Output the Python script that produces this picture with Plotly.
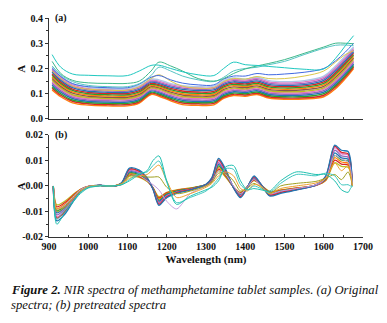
import plotly.graph_objects as go

# ---------------- data: panel (a) original spectra ----------------
wl_a = [908, 930, 960, 1000, 1050, 1100, 1130, 1160, 1180, 1210, 1240, 1280,
        1320, 1345, 1370, 1400, 1430, 1460, 1500, 1550, 1600, 1630, 1655, 1676]

a_s01 = [0.115,0.088,0.064,0.055,0.052,0.052,0.063,0.097,0.090,0.072,0.057,0.054,0.056,0.082,0.093,0.090,0.097,0.083,0.078,0.079,0.088,0.120,0.160,0.200]
a_s02 = [0.122,0.094,0.070,0.060,0.057,0.057,0.068,0.102,0.095,0.077,0.063,0.060,0.062,0.087,0.098,0.095,0.102,0.088,0.083,0.084,0.094,0.127,0.167,0.206]
a_s03 = [0.128,0.100,0.075,0.065,0.062,0.062,0.073,0.106,0.099,0.082,0.068,0.065,0.067,0.092,0.103,0.100,0.107,0.093,0.088,0.089,0.100,0.133,0.173,0.212]
a_s04 = [0.135,0.106,0.081,0.070,0.067,0.067,0.078,0.111,0.104,0.087,0.074,0.070,0.072,0.097,0.108,0.105,0.112,0.098,0.093,0.095,0.106,0.140,0.180,0.218]
a_s05 = [0.141,0.112,0.086,0.075,0.072,0.072,0.083,0.115,0.108,0.092,0.079,0.075,0.077,0.102,0.113,0.110,0.117,0.103,0.098,0.100,0.112,0.146,0.186,0.224]
a_s06 = [0.147,0.118,0.091,0.080,0.077,0.077,0.088,0.119,0.113,0.097,0.084,0.081,0.083,0.107,0.118,0.115,0.122,0.108,0.103,0.105,0.118,0.152,0.192,0.230]
a_s07 = [0.153,0.123,0.096,0.085,0.081,0.081,0.092,0.123,0.118,0.101,0.089,0.086,0.088,0.112,0.122,0.119,0.126,0.112,0.108,0.110,0.123,0.158,0.198,0.236]
a_s08 = [0.160,0.129,0.102,0.090,0.086,0.086,0.097,0.128,0.123,0.106,0.095,0.091,0.093,0.117,0.127,0.124,0.131,0.117,0.113,0.116,0.129,0.165,0.205,0.242]
a_s09 = [0.166,0.135,0.107,0.095,0.091,0.091,0.102,0.132,0.127,0.111,0.100,0.096,0.098,0.122,0.132,0.129,0.136,0.122,0.118,0.121,0.135,0.171,0.211,0.248]
a_s10 = [0.173,0.141,0.113,0.100,0.096,0.096,0.107,0.137,0.132,0.116,0.106,0.102,0.104,0.127,0.137,0.134,0.141,0.127,0.123,0.126,0.141,0.178,0.218,0.254]
a_s11 = [0.179,0.147,0.118,0.105,0.101,0.101,0.112,0.141,0.136,0.121,0.111,0.107,0.109,0.132,0.142,0.139,0.146,0.132,0.128,0.131,0.147,0.184,0.224,0.260]
a_s12 = [0.186,0.153,0.124,0.110,0.106,0.106,0.117,0.146,0.141,0.126,0.117,0.113,0.115,0.137,0.147,0.144,0.151,0.137,0.133,0.136,0.153,0.191,0.231,0.266]
a_s13 = [0.192,0.159,0.129,0.115,0.111,0.111,0.122,0.150,0.145,0.131,0.122,0.118,0.120,0.142,0.152,0.149,0.156,0.142,0.138,0.141,0.159,0.197,0.237,0.272]
a_s14 = [0.199,0.165,0.135,0.120,0.116,0.116,0.127,0.154,0.150,0.136,0.127,0.123,0.125,0.147,0.157,0.154,0.161,0.147,0.143,0.147,0.165,0.204,0.244,0.279]
a_s15 = [0.205,0.170,0.140,0.125,0.120,0.120,0.132,0.158,0.155,0.140,0.132,0.128,0.130,0.152,0.162,0.158,0.165,0.152,0.148,0.152,0.170,0.210,0.250,0.285]
a_s16 = [0.190,0.160,0.130,0.118,0.114,0.114,0.128,0.160,0.175,0.150,0.130,0.122,0.124,0.148,0.160,0.158,0.168,0.160,0.160,0.170,0.190,0.225,0.255,0.270]
a_s17 = [0.200,0.168,0.140,0.128,0.124,0.124,0.138,0.165,0.172,0.155,0.142,0.135,0.135,0.158,0.170,0.170,0.180,0.175,0.178,0.185,0.200,0.230,0.265,0.300]
a_s18 = [0.210,0.175,0.148,0.133,0.128,0.128,0.140,0.172,0.205,0.190,0.170,0.155,0.148,0.165,0.190,0.200,0.205,0.215,0.228,0.255,0.280,0.292,0.293,0.290]
a_s19 = [0.228,0.180,0.153,0.143,0.141,0.141,0.150,0.190,0.225,0.210,0.190,0.160,0.150,0.160,0.180,0.198,0.210,0.220,0.235,0.260,0.285,0.300,0.300,0.298]
a_s20 = [0.255,0.205,0.178,0.173,0.171,0.172,0.190,0.212,0.213,0.200,0.187,0.175,0.172,0.200,0.225,0.215,0.212,0.208,0.203,0.197,0.198,0.240,0.290,0.330]

# ---------------- data: panel (b) pretreated spectra ----------------
wl_b = [911, 920, 940, 960, 980, 1000, 1030, 1060, 1085, 1105, 1130, 1150,
        1165, 1180, 1200, 1225, 1260, 1300, 1315, 1332, 1350, 1370, 1388, 1405,
        1422, 1440, 1462, 1490, 1530, 1580, 1605, 1628, 1645, 1662, 1668, 1673]

b_s01 = [0, -0.0074, -0.0060, -0.0035, -0.0013, -0.0002, 0.0001, -0.0001, 0.0007, 0.0039, 0.0034, 0.0018, -0.0007, -0.0042, -0.0025, -0.0015, -0.0008, 0.0004, 0.0018, 0.0060, 0.0035, -0.0004, -0.0025, -0.0004, 0.0021, 0.0004, -0.0021, -0.0015, -0.0008, 0.0002, 0.0021, 0.0091, 0.0077, 0.0074, 0.0056, 0.0001]
b_s02 = [0, -0.0082, -0.0066, -0.0039, -0.0014, -0.0002, 0.0002, -0.0001, 0.0008, 0.0043, 0.0037, 0.0020, -0.0008, -0.0047, -0.0027, -0.0017, -0.0009, 0.0004, 0.0020, 0.0066, 0.0039, -0.0004, -0.0027, -0.0004, 0.0023, 0.0004, -0.0023, -0.0017, -0.0009, 0.0002, 0.0023, 0.0101, 0.0086, 0.0082, 0.0062, 0.0002]
b_s03 = [0, -0.0089, -0.0072, -0.0043, -0.0015, -0.0003, 0.0002, -0.0001, 0.0009, 0.0047, 0.0041, 0.0021, -0.0009, -0.0051, -0.0030, -0.0019, -0.0010, 0.0004, 0.0021, 0.0072, 0.0043, -0.0004, -0.0030, -0.0004, 0.0026, 0.0004, -0.0026, -0.0019, -0.0010, 0.0003, 0.0026, 0.0111, 0.0094, 0.0089, 0.0068, 0.0002]
b_s04 = [0, -0.0097, -0.0079, -0.0046, -0.0017, -0.0003, 0.0002, -0.0001, 0.0009, 0.0051, 0.0044, 0.0023, -0.0009, -0.0056, -0.0032, -0.0020, -0.0011, 0.0005, 0.0023, 0.0079, 0.0046, -0.0005, -0.0032, -0.0005, 0.0028, 0.0005, -0.0028, -0.0020, -0.0011, 0.0003, 0.0028, 0.0120, 0.0102, 0.0097, 0.0074, 0.0002]
b_s05 = [0, -0.0105, -0.0085, -0.0050, -0.0018, -0.0003, 0.0002, -0.0001, 0.0010, 0.0055, 0.0048, 0.0025, -0.0010, -0.0060, -0.0035, -0.0022, -0.0012, 0.0005, 0.0025, 0.0085, 0.0050, -0.0005, -0.0035, -0.0005, 0.0030, 0.0005, -0.0030, -0.0022, -0.0012, 0.0003, 0.0030, 0.0130, 0.0110, 0.0105, 0.0080, 0.0002]
b_s06 = [0, -0.0113, -0.0091, -0.0054, -0.0019, -0.0003, 0.0002, -0.0001, 0.0011, 0.0059, 0.0052, 0.0027, -0.0011, -0.0065, -0.0038, -0.0024, -0.0013, 0.0005, 0.0027, 0.0091, 0.0054, -0.0005, -0.0038, -0.0005, 0.0032, 0.0005, -0.0032, -0.0024, -0.0013, 0.0003, 0.0032, 0.0140, 0.0118, 0.0113, 0.0086, 0.0002]
b_s07 = [0, -0.0121, -0.0098, -0.0058, -0.0021, -0.0003, 0.0002, -0.0001, 0.0012, 0.0063, 0.0055, 0.0029, -0.0012, -0.0069, -0.0040, -0.0025, -0.0014, 0.0006, 0.0029, 0.0098, 0.0058, -0.0006, -0.0040, -0.0006, 0.0035, 0.0006, -0.0035, -0.0025, -0.0014, 0.0003, 0.0035, 0.0150, 0.0127, 0.0121, 0.0092, 0.0002]
b_s08 = [0, -0.0126, -0.0102, -0.0060, -0.0022, -0.0004, 0.0002, -0.0001, 0.0012, 0.0066, 0.0058, 0.0030, -0.0012, -0.0072, -0.0042, -0.0026, -0.0014, 0.0006, 0.0030, 0.0102, 0.0060, -0.0006, -0.0042, -0.0006, 0.0036, 0.0006, -0.0036, -0.0026, -0.0014, 0.0004, 0.0036, 0.0156, 0.0132, 0.0126, 0.0096, 0.0002]
b_s09 = [0, -0.0137, -0.0111, -0.0065, -0.0023, -0.0004, 0.0003, -0.0001, 0.0013, 0.0070, 0.0062, 0.0033, -0.0013, -0.0076, -0.0046, -0.0029, -0.0016, 0.0007, 0.0033, 0.0108, 0.0065, -0.0007, -0.0046, -0.0007, 0.0039, 0.0007, -0.0039, -0.0029, -0.0016, 0.0004, 0.0039, 0.0160, 0.0140, 0.0135, 0.0104, 0.0003]
b_s10 = [0, -0.0090, -0.0075, -0.0045, -0.0015, -0.0002, 0.0002, 0.0000, 0.0008, 0.0040, 0.0040, 0.0020, 0.0005, -0.0015, -0.0060, -0.0090, -0.0030, 0.0000, 0.0015, 0.0060, 0.0045, 0.0000, -0.0030, -0.0005, 0.0025, 0.0000, -0.0030, -0.0020, -0.0010, 0.0005, 0.0030, 0.0120, 0.0105, 0.0095, 0.0070, 0.0002]
b_s11 = [0, -0.0100, -0.0085, -0.0050, -0.0020, -0.0003, 0.0002, 0.0000, 0.0010, 0.0040, 0.0042, 0.0035, 0.0035, 0.0035, -0.0005, -0.0030, -0.0020, 0.0000, 0.0015, 0.0050, 0.0048, 0.0020, -0.0020, -0.0010, 0.0010, -0.0005, -0.0030, 0.0000, 0.0010, 0.0018, 0.0030, 0.0045, 0.0025, 0.0055, 0.0035, 0.0000]
b_s12 = [0, -0.0090, -0.0080, -0.0050, -0.0020, -0.0003, 0.0002, 0.0000, 0.0008, 0.0030, 0.0040, 0.0045, 0.0065, 0.0082, 0.0020, -0.0045, -0.0030, -0.0005, 0.0010, 0.0040, 0.0055, 0.0040, -0.0010, -0.0020, 0.0005, 0.0000, -0.0030, -0.0010, 0.0000, 0.0012, 0.0030, 0.0090, 0.0060, 0.0080, 0.0050, 0.0000]
b_s13 = [0, -0.0130, -0.0095, -0.0060, -0.0025, -0.0005, 0.0001, 0.0000, 0.0005, 0.0025, 0.0050, 0.0055, 0.0080, 0.0098, 0.0015, -0.0065, -0.0045, -0.0020, 0.0000, 0.0030, 0.0068, 0.0065, 0.0005, -0.0015, 0.0000, -0.0010, -0.0025, 0.0010, 0.0045, 0.0040, 0.0050, 0.0040, 0.0005, 0.0005, 0.0000, 0.0000]
b_s14 = [0, -0.0150, -0.0105, -0.0065, -0.0030, -0.0008, 0.0000, 0.0000, 0.0005, 0.0020, 0.0045, 0.0060, 0.0100, 0.0118, 0.0020, -0.0072, -0.0040, -0.0015, -0.0005, 0.0020, 0.0075, 0.0080, 0.0020, -0.0015, -0.0010, -0.0015, -0.0020, 0.0020, 0.0055, 0.0045, 0.0045, 0.0020, -0.0015, -0.0025, -0.0010, 0.0000]

# ---------------- tick labels & colours ----------------
x_ticks = [900, 1000, 1100, 1200, 1300, 1400, 1500, 1600, 1700]
ya_ticks = [0.0, 0.1, 0.2, 0.3, 0.4]
yb_ticks = [-0.02, -0.01, 0.00, 0.01, 0.02]
yb_labels = ["-0.02", "-0.01", "0.00", "0.01", "0.02"]

band_colors = ["#ff7f0e", "#d62728", "#2ca02c", "#1f77b4", "#9467bd", "#e377c2",
               "#bcbd22", "#8c564b", "#ff7f0e", "#2ca02c", "#d62728", "#1f77b4",
               "#9467bd", "#e377c2", "#aec7e8"]
a_curves = [a_s01, a_s02, a_s03, a_s04, a_s05, a_s06, a_s07, a_s08, a_s09, a_s10,
            a_s11, a_s12, a_s13, a_s14, a_s15]
a_out = [(a_s16, "#dbc84a"), (a_s17, "#4169e1"), (a_s18, "#56c4c4"),
         (a_s19, "#3cb88a"), (a_s20, "#20c8c0")]
b_curves = [b_s01, b_s02, b_s03, b_s04, b_s05, b_s06, b_s07, b_s08, b_s09]
b_colors = ["#bcbd22", "#d62728", "#ff7f0e", "#2ca02c", "#1f77b4", "#9467bd",
            "#e377c2", "#d62728", "#1f77b4"]
b_out = [(b_s10, "#c8a0e0"), (b_s11, "#a0a020"), (b_s12, "#f0a030"),
         (b_s13, "#40c8c0"), (b_s14, "#20c0b0")]

fig = go.Figure()
for i, c in enumerate(a_curves):
    fig.add_trace(go.Scatter(x=wl_a, y=c, mode="lines", xaxis="x", yaxis="y",
                             line=dict(color=band_colors[i], width=1.4, shape="spline")))
for c, col in a_out:
    fig.add_trace(go.Scatter(x=wl_a, y=c, mode="lines", xaxis="x", yaxis="y",
                             line=dict(color=col, width=1, shape="spline")))
for i, c in enumerate(b_curves):
    fig.add_trace(go.Scatter(x=wl_b, y=c, mode="lines", xaxis="x2", yaxis="y2",
                             line=dict(color=b_colors[i], width=1.3, shape="spline", smoothing=0.8)))
for c, col in b_out:
    fig.add_trace(go.Scatter(x=wl_b, y=c, mode="lines", xaxis="x2", yaxis="y2",
                             line=dict(color=col, width=1, shape="spline", smoothing=0.8)))

FONT = "Liberation Serif"
tickfont = dict(family=FONT, size=10, color="#111")
xcommon = dict(range=[900, 1700], ticks="inside", ticklen=3,
               showline=True, linecolor="#333", linewidth=1, mirror=False,
               showgrid=False, zeroline=False, tickcolor="#333", automargin=False,
               minor=dict(dtick=50, tick0=900, ticks="inside", ticklen=2, tickcolor="#333"))
ycommon = dict(ticks="outside", ticklen=3, showline=True, linecolor="#333",
               linewidth=1, showgrid=False, zeroline=False, tickcolor="#333",
               tickfont=tickfont, automargin=False)

# page body has an 8px margin, so the figure is sized 8px smaller each way
fig.update_layout(
    width=379, height=315, paper_bgcolor="white", plot_bgcolor="white",
    margin=dict(l=41, r=24, t=10, b=86), showlegend=False,
    xaxis=dict(**xcommon, domain=[0, 1], anchor="y", showticklabels=False,
               tickvals=x_ticks),
    xaxis2=dict(**xcommon, domain=[0, 1], anchor="y2", tickfont=tickfont,
                tickvals=x_ticks, ticktext=["<b>%d</b>" % v for v in x_ticks],
                title=dict(text="<b>Wavelength (nm)</b>", font=dict(family=FONT, size=11, color="#111"), standoff=4)),
    yaxis=dict(**ycommon, domain=[0.539, 1], range=[0, 0.4], tickvals=ya_ticks,
               ticktext=["<b>%.1f</b>" % v for v in ya_ticks], anchor="x",
               minor=dict(dtick=0.05, ticks="outside", ticklen=2, tickcolor="#333")),
    yaxis2=dict(**ycommon, domain=[0, 0.466], range=[-0.02, 0.02], tickvals=yb_ticks,
                ticktext=["<b>%s</b>" % t for t in yb_labels], anchor="x2",
                minor=dict(dtick=0.005, tick0=-0.02, ticks="outside", ticklen=2, tickcolor="#333")),
)

ann_font = dict(family=FONT, size=10, color="#111")
fig.add_annotation(text="<b>(a)</b>", xref="paper", yref="paper", x=0.012, y=1.0,
                   xanchor="left", yanchor="middle", showarrow=False, font=ann_font)
fig.add_annotation(text="<b>(b)</b>", xref="paper", yref="paper", x=0.012, y=0.466,
                   xanchor="left", yanchor="middle", showarrow=False, font=ann_font)
fig.add_annotation(text="<b>A</b>", xref="paper", yref="paper", x=-0.088, y=0.77,
                   textangle=-90, xanchor="center", yanchor="middle", showarrow=False,
                   font=dict(family=FONT, size=11, color="#111"))
fig.add_annotation(text="<b>A</b>", xref="paper", yref="paper", x=-0.088, y=0.233,
                   textangle=-90, xanchor="center", yanchor="middle", showarrow=False,
                   font=dict(family=FONT, size=11, color="#111"))
cap_font = dict(family=FONT, size=12.7, color="#111")
fig.add_annotation(text="<b><i>Figure 2.</i></b><i> NIR spectra of methamphetamine tablet samples. (a) Original</i>",
                   xref="paper", yref="paper", x=-0.128, y=-0.242, xanchor="left",
                   yanchor="middle", showarrow=False, font=cap_font)
fig.add_annotation(text="<i>spectra; (b) pretreated spectra</i>",
                   xref="paper", yref="paper", x=-0.128, y=-0.31, xanchor="left",
                   yanchor="middle", showarrow=False, font=cap_font)

fig.write_html("out.html")
